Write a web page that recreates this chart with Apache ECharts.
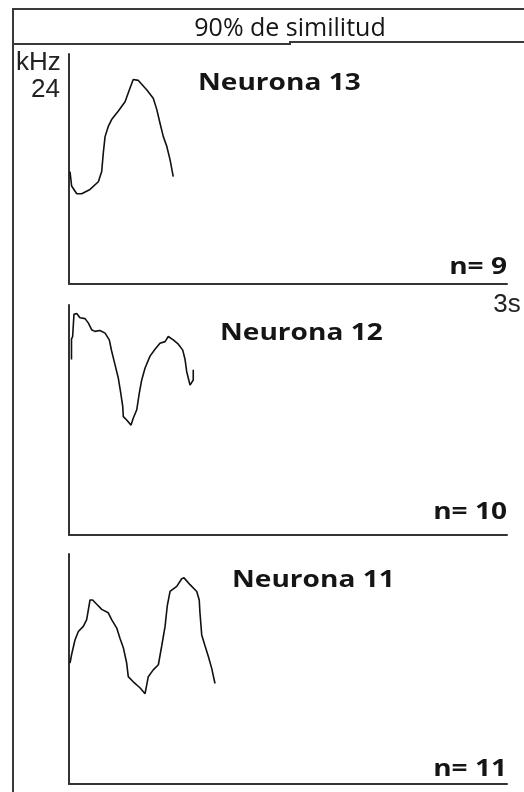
<!DOCTYPE html>
<html>
<head>
<meta charset="utf-8">
<script src="https://cdn.jsdelivr.net/npm/echarts@6/dist/echarts.min.js"></script>
<style>
  html, body { margin: 0; padding: 0; background: #fff; }
  #chart { width: 524px; height: 792px; }
</style>
</head>
<body>
<div id="chart"></div>
<script>
// tiempo (s) y frecuencia (kHz) de cada contorno
var t13 = [0.007, 0.018, 0.053, 0.087, 0.144, 0.201, 0.224, 0.235, 0.247, 0.269, 0.292, 0.338, 0.384, 0.418, 0.440, 0.475, 0.532, 0.577, 0.601, 0.623, 0.646, 0.669, 0.692, 0.714];
var f13 = [13.2, 11.5, 10.6, 10.6, 11.1, 12.0, 13.2, 15.4, 17.3, 18.5, 19.3, 20.3, 21.4, 23.0, 24.0, 23.9, 22.8, 21.8, 20.5, 18.9, 17.3, 16.2, 14.6, 12.6];

var t12 = [0.017, 0.017, 0.025, 0.034, 0.053, 0.075, 0.110, 0.132, 0.155, 0.178, 0.212, 0.247, 0.276, 0.292, 0.315, 0.338, 0.354, 0.368, 0.372, 0.395, 0.425, 0.440, 0.464, 0.482, 0.498, 0.521, 0.555, 0.589, 0.623, 0.658, 0.680, 0.714, 0.749, 0.779, 0.795, 0.806, 0.829, 0.851, 0.851];
var f12 = [20.6, 23.0, 23.3, 25.9, 26.0, 25.5, 25.4, 24.9, 24.1, 23.9, 24.0, 23.7, 22.9, 21.6, 20.0, 18.4, 16.7, 15.1, 13.9, 13.5, 12.9, 13.7, 14.7, 16.7, 18.2, 19.6, 21.0, 21.8, 22.5, 22.7, 23.3, 22.9, 22.4, 21.7, 20.6, 19.2, 17.6, 18.2, 19.4];

var t11 = [0.007, 0.018, 0.041, 0.064, 0.098, 0.121, 0.144, 0.162, 0.190, 0.224, 0.269, 0.292, 0.327, 0.349, 0.372, 0.395, 0.406, 0.440, 0.486, 0.521, 0.543, 0.577, 0.612, 0.635, 0.658, 0.673, 0.692, 0.738, 0.772, 0.788, 0.829, 0.875, 0.892, 0.897, 0.909, 0.932, 0.954, 0.977, 1.000];
var f11 = [14.2, 15.2, 16.9, 17.9, 18.5, 19.3, 21.6, 21.6, 21.1, 20.5, 20.1, 19.3, 18.3, 17.1, 16.0, 14.2, 12.6, 12.0, 11.3, 10.6, 12.6, 13.4, 14.0, 16.2, 18.5, 20.9, 22.6, 23.2, 24.1, 24.2, 23.4, 22.6, 21.6, 20.1, 17.5, 16.2, 15.0, 13.6, 11.8];

var neuronNames = ['Neurona 13', 'Neurona 12', 'Neurona 11'];
var counts = ['n= 9', 'n= 10', 'n= 11'];
var titleText = '90% de similitud';
var yUnit = 'kHz';
var yTopLabel = '24';
var xEndLabel = '3s';

function pairs(t, f) {
    var out = [];
    for (var i = 0; i < t.length; i++) out.push([t[i], f[i]]);
    return out;
}

var tops = [54, 305, 554];
var nameX = [198, 220, 232];
var nameY = [83.5, 333, 580];
var countY = [267.5, 512.5, 769.5];
var allData = [pairs(t13, f13), pairs(t12, f12), pairs(t11, f11)];

var boldText = function (txt, x, y, align) {
    return {
        type: 'text', x: x, y: y, scaleX: 1.22,
        style: {
            text: txt, fill: '#151515', fontFamily: 'Open Sans', fontWeight: 'bold',
            fontSize: 23, align: align, verticalAlign: 'middle'
        }
    };
};

var grids = [], xAxes = [], yAxes = [], series = [], graphics = [];
for (var k = 0; k < 3; k++) {
    grids.push({ left: 69, top: tops[k], width: 438, height: 230 });
    xAxes.push({
        gridIndex: k, type: 'value', min: 0, max: 3, interval: 3,
        axisLine: { show: true, onZero: false, lineStyle: { color: '#333', width: 2 } },
        axisTick: { show: false },
        splitLine: { show: false },
        axisLabel: {
            show: k === 0, margin: 8, color: '#222', fontSize: 26,
            fontFamily: 'Liberation Sans',
            formatter: function (v) { return v === 3 ? xEndLabel : ''; }
        }
    });
    yAxes.push({
        gridIndex: k, type: 'value', min: 0, max: 27,
        axisLine: { show: true, onZero: false, lineStyle: { color: '#333', width: 2 } },
        axisTick: { show: false },
        splitLine: { show: false },
        axisLabel: { show: false }
    });
    series.push({
        type: 'line', xAxisIndex: k, yAxisIndex: k, data: allData[k],
        showSymbol: false, symbol: 'none', silent: true,
        lineStyle: { color: '#111', width: 1.6 }
    });
    graphics.push(boldText(neuronNames[k], nameX[k], nameY[k], 'left'));
    graphics.push(boldText(counts[k], 507, countY[k], 'right'));
}

// marco y encabezado de la tabla
graphics.push({ type: 'line', shape: { x1: 13, y1: 8, x2: 13, y2: 792 }, style: { stroke: '#3a3a3a', lineWidth: 2 } });
graphics.push({ type: 'line', shape: { x1: 13, y1: 9, x2: 524, y2: 9 }, style: { stroke: '#3a3a3a', lineWidth: 2 } });
graphics.push({ type: 'polyline', shape: { points: [[13, 44], [290, 44], [290, 42], [524, 42]] }, style: { stroke: '#3a3a3a', lineWidth: 2, fill: null } });
graphics.push({
    type: 'text', x: 290, y: 29,
    style: { text: titleText, fill: '#151515', fontFamily: 'Open Sans', fontSize: 25, align: 'center', verticalAlign: 'middle' }
});
graphics.push({
    type: 'text', x: 16, y: 63,
    style: { text: yUnit, fill: '#222', fontFamily: 'Liberation Sans', fontSize: 26, align: 'left', verticalAlign: 'middle' }
});
graphics.push({
    type: 'text', x: 60, y: 90,
    style: { text: yTopLabel, fill: '#222', fontFamily: 'Liberation Sans', fontSize: 26, align: 'right', verticalAlign: 'middle' }
});

var myChart = echarts.init(document.getElementById('chart'));
myChart.setOption({
    animation: false,
    grid: grids,
    xAxis: xAxes,
    yAxis: yAxes,
    series: series,
    graphic: graphics
});
</script>
</body>
</html>
